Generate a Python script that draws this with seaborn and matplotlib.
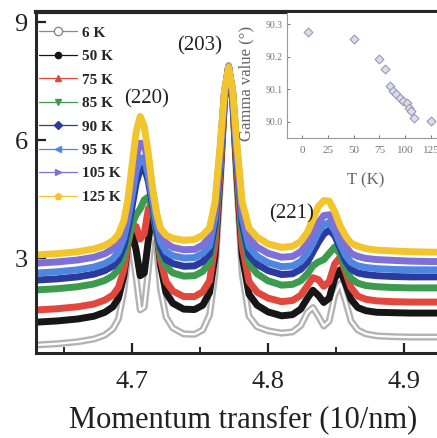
import pandas as pd
import matplotlib
matplotlib.use('Agg')
import matplotlib.pyplot as plt
from matplotlib.lines import Line2D
from matplotlib.ticker import MultipleLocator
import seaborn as sns

# momentum transfer grid (10/nm), shared by all temperatures
q = [4.630, 4.645, 4.660, 4.672, 4.680, 4.686, 4.690, 4.694, 4.697, 4.700,
     4.703, 4.706, 4.709, 4.712, 4.715, 4.718, 4.721, 4.725, 4.730, 4.738,
     4.746, 4.752, 4.757, 4.761, 4.765, 4.768, 4.771, 4.774, 4.777, 4.781,
     4.786, 4.792, 4.800, 4.810, 4.818, 4.824, 4.829, 4.833, 4.837, 4.841,
     4.845, 4.849, 4.853, 4.857, 4.861, 4.866, 4.872, 4.880, 4.892, 4.905,
     4.920, 4.935]

i_6K = [0.79, 0.82, 0.87, 0.94, 1.04, 1.20, 1.45, 2.15, 3.10, 3.25,
        2.50, 1.68, 1.75, 2.70, 3.75, 3.30, 2.20, 1.50, 1.22, 1.07,
        1.06, 1.17, 1.55, 2.59, 4.93, 7.00, 7.90, 7.00, 4.93, 2.59,
        1.52, 1.25, 1.15, 1.09, 1.12, 1.28, 1.62, 1.74, 1.52, 1.27,
        1.40, 2.05, 2.35, 1.90, 1.40, 1.17, 1.07, 1.02, 1.00, 0.99,
        0.99, 0.99]
i_50K = [1.37, 1.40, 1.45, 1.52, 1.62, 1.76, 1.98, 2.55, 3.35, 3.68,
         3.20, 2.55, 2.62, 3.45, 4.15, 3.75, 2.80, 2.12, 1.85, 1.70,
         1.69, 1.80, 2.12, 3.05, 5.17, 7.04, 7.85, 7.04, 5.17, 3.05,
         2.08, 1.80, 1.63, 1.53, 1.56, 1.70, 1.98, 2.18, 2.05, 1.87,
         1.98, 2.48, 2.70, 2.35, 1.95, 1.74, 1.66, 1.62, 1.61, 1.60,
         1.60, 1.60]
i_75K = [1.68, 1.71, 1.76, 1.83, 1.93, 2.06, 2.25, 2.70, 3.35, 3.85,
         3.80, 3.48, 3.62, 4.25, 4.42, 3.70, 2.95, 2.40, 2.16, 2.02,
         2.02, 2.14, 2.42, 3.31, 5.31, 7.08, 7.85, 7.08, 5.31, 3.31,
         2.40, 2.13, 1.98, 1.89, 1.92, 2.05, 2.30, 2.50, 2.45, 2.28,
         2.40, 2.85, 3.02, 2.65, 2.25, 2.03, 1.95, 1.91, 1.89, 1.88,
         1.88, 1.88]
i_85K = [2.19, 2.22, 2.27, 2.34, 2.43, 2.55, 2.72, 3.05, 3.45, 3.85,
         4.10, 4.25, 4.48, 4.55, 4.25, 3.65, 3.10, 2.78, 2.62, 2.54,
         2.55, 2.66, 2.88, 3.69, 5.53, 7.15, 7.85, 7.15, 5.53, 3.69,
         2.86, 2.60, 2.42, 2.31, 2.33, 2.42, 2.60, 2.80, 2.90, 2.96,
         3.12, 3.28, 3.10, 2.75, 2.48, 2.36, 2.30, 2.27, 2.25, 2.24,
         2.24, 2.24]
i_90K = [2.44, 2.47, 2.52, 2.59, 2.68, 2.80, 2.96, 3.30, 3.75, 4.30,
         4.90, 5.25, 5.30, 4.95, 4.35, 3.73, 3.25, 2.96, 2.86, 2.79,
         2.80, 2.91, 3.11, 3.88, 5.64, 7.18, 7.85, 7.18, 5.64, 3.88,
         3.08, 2.84, 2.68, 2.58, 2.60, 2.71, 2.90, 3.15, 3.40, 3.61,
         3.71, 3.57, 3.25, 2.92, 2.72, 2.62, 2.58, 2.55, 2.53, 2.52,
         2.52, 2.52]
i_95K = [2.62, 2.65, 2.70, 2.77, 2.86, 2.98, 3.15, 3.51, 3.98, 4.59,
         5.21, 5.54, 5.55, 5.11, 4.49, 3.87, 3.41, 3.16, 3.06, 3.00,
         3.01, 3.12, 3.31, 4.05, 5.73, 7.21, 7.85, 7.21, 5.73, 4.05,
         3.28, 3.04, 2.88, 2.78, 2.80, 2.91, 3.12, 3.37, 3.66, 3.85,
         3.90, 3.71, 3.37, 3.07, 2.89, 2.80, 2.76, 2.73, 2.71, 2.70,
         2.70, 2.70]
i_105K = [2.87, 2.90, 2.95, 3.02, 3.11, 3.23, 3.40, 3.79, 4.28, 4.92,
          5.57, 5.92, 5.90, 5.41, 4.74, 4.11, 3.66, 3.38, 3.27, 3.21,
          3.22, 3.33, 3.53, 4.23, 5.83, 7.24, 7.85, 7.24, 5.83, 4.23,
          3.50, 3.28, 3.12, 3.02, 3.04, 3.16, 3.37, 3.62, 3.90, 4.08,
          4.10, 3.88, 3.55, 3.29, 3.12, 3.04, 2.99, 2.96, 2.94, 2.92,
          2.91, 2.91]
i_125K = [3.08, 3.11, 3.16, 3.23, 3.32, 3.44, 3.60, 3.95, 4.50, 5.35,
          6.20, 6.60, 6.35, 5.65, 4.80, 4.15, 3.75, 3.58, 3.50, 3.45,
          3.47, 3.58, 3.76, 4.42, 5.94, 7.27, 7.85, 7.27, 5.94, 4.42,
          3.76, 3.53, 3.36, 3.27, 3.30, 3.42, 3.66, 3.98, 4.31, 4.46,
          4.45, 4.18, 3.82, 3.56, 3.38, 3.30, 3.24, 3.20, 3.18, 3.16,
          3.15, 3.15]

temps = ['6 K', '50 K', '75 K', '85 K', '90 K', '95 K', '105 K', '125 K']
curves = [i_6K, i_50K, i_75K, i_85K, i_90K, i_95K, i_105K, i_125K]
colors = ['#b3b3b3', '#161616', '#e2473d', '#3d9b50', '#2b3a9f', '#4f86e0', '#7f70d8', '#f2c52c']
markers = ['o', 'o', '^', 'v', 'D', '<', '>', 'p']

# inset: gamma angle vs temperature
inset_T = [6, 50, 75, 80, 85, 88, 91, 95, 98, 102, 104, 106, 109, 125]
inset_gamma = [90.275, 90.254, 90.192, 90.161, 90.109, 90.094, 90.084, 90.073,
               90.063, 90.057, 90.042, 90.032, 90.011, 90.001]

peak_labels = ['(220)', '(203)', '(221)']
peak_x = [4.711, 4.750, 4.8176]
peak_y = [7.05, 8.40, 4.13]

sns.set_style('ticks')
plt.rcParams['font.family'] = ['Liberation Serif', 'DejaVu Serif']

df = pd.DataFrame({
    'q': q * len(temps),
    'intensity': [v for c in curves for v in c],
    'T': [t for t in temps for _ in q],
})

fig = plt.figure(figsize=(4.37, 4.38), dpi=100)
ax = fig.add_axes([36 / 437, 85 / 438, 414 / 437, 341 / 438])

# 6 K drawn as a hollow grey band (open circles in the original)
sns.lineplot(data=df[df['T'] == '6 K'], x='q', y='intensity', color=colors[0],
             linewidth=5.0, estimator=None, legend=False, ax=ax)
sns.lineplot(data=df[df['T'] == '6 K'], x='q', y='intensity', color='white',
             linewidth=1.6, estimator=None, legend=False, ax=ax)
sns.lineplot(data=df[df['T'] != '6 K'], x='q', y='intensity', hue='T',
             hue_order=temps[1:], palette=dict(zip(temps, colors)),
             linewidth=5.0, estimator=None, legend=False, ax=ax)

ax.set_xlim(4.6294, 4.9338)
ax.set_ylim(0.585, 9.255)
ax.set_yticks([3, 6, 9])
ax.set_xticks([4.7, 4.8, 4.9])
ax.xaxis.set_minor_locator(MultipleLocator(0.05))
ax.tick_params(axis='both', which='major', direction='in', length=7, width=1.6,
               labelsize=19, colors='#222222')
ax.tick_params(axis='x', which='major', pad=13)
ax.tick_params(axis='y', which='major', pad=6)
ax.tick_params(axis='x', which='minor', direction='in', length=4, width=1.4)
for side in ['left', 'bottom']:
    ax.spines[side].set_linewidth(2.2)
ax.spines['top'].set_linewidth(3.0)
ax.set_xlabel('Momentum transfer (10/nm)', fontsize=22, color='#222222', labelpad=9)
ax.set_ylabel('')

for lab, px, py in zip(peak_labels, peak_x, peak_y):
    ax.text(px, py, lab, fontsize=15, ha='center', va='center', color='#222222')

handles = []
for t, c, m in zip(temps, colors, markers):
    if t == '6 K':
        h = Line2D([0], [0], color='#8a8a8a', lw=0.9, marker='o', markersize=6,
                   markerfacecolor='white', markeredgecolor='#8a8a8a')
    else:
        h = Line2D([0], [0], color=c, lw=0.9, marker=m, markersize=4.5,
                   markerfacecolor=c, markeredgecolor=c)
    handles.append(h)
ax.legend(handles=handles, labels=temps, loc='upper left', bbox_to_anchor=(0.0, 0.968),
          frameon=False, prop={'family': 'Liberation Serif', 'weight': 'bold', 'size': 11},
          handlelength=2.5, handletextpad=0.3, labelspacing=0.64,
          borderaxespad=0.1, borderpad=0.1)

# inset
axin = fig.add_axes([287 / 437, 300 / 438, 158 / 437, 125 / 438])
axin.set_facecolor('white')
sns.scatterplot(x=inset_T, y=inset_gamma, marker='D', s=20, color='#dcdcec',
                edgecolor='#9a9ab4', linewidth=0.8, ax=axin, legend=False)
axin.set_xlim(-14.5, 138.6)
axin.set_ylim(89.95, 90.334)
axin.set_xticks([0, 25, 50, 75, 100, 125])
axin.set_yticks([90.0, 90.1, 90.2, 90.3])
axin.set_yticklabels(['90.0', '90.1', '90.2', '90.3'])
axin.tick_params(axis='x', direction='in', length=2.5, width=0.7, labelsize=8,
                 colors='#777777', pad=6)
axin.tick_params(axis='y', direction='in', length=2.5, width=0.7, labelsize=7,
                 colors='#777777', pad=3)
for side in ['left', 'bottom']:
    axin.spines[side].set_color('#999999')
    axin.spines[side].set_linewidth(0.8)
axin.spines['top'].set_visible(False)
axin.spines['right'].set_visible(False)
axin.set_xlabel('T (K)', fontsize=12, color='#666666', labelpad=12)
axin.set_ylabel('Gamma value (°)', fontsize=12, color='#666666')
axin.yaxis.set_label_coords(-0.205, 0.44)

fig.savefig('out.png', dpi=100)
